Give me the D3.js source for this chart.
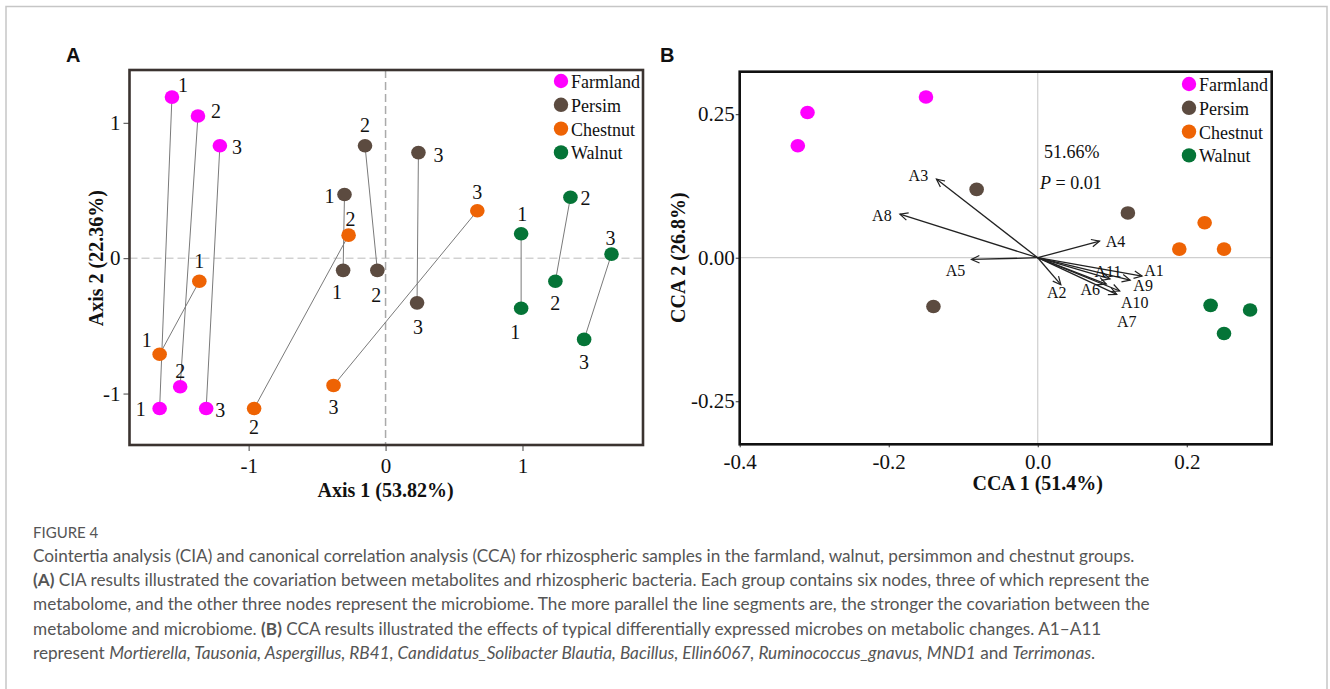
<!DOCTYPE html>
<html>
<head>
<meta charset="utf-8">
<script src="https://cdn.jsdelivr.net/npm/d3@7"></script>
<style>
body{margin:0;background:#fff;}
.visualization text{font-family:"Liberation Serif","Times New Roman",serif;fill:#111;}
.visualization .caption{font-family:Lato,"Open Sans",sans-serif;fill:#555;}
</style>
</head>
<body>
<div class="visualization"></div>
<script>
//data
const groups = ["Farmland", "Persim", "Chestnut", "Walnut"];
const replicates = ["1", "2", "3"];

//panel A: co-inertia, one row per group, first and second table scores
const ciaTicks = [-1, 0, 1];
const ciaX1 = [[-1.56, -1.37, -1.21], [-0.30, -0.15, 0.24], [-1.36, -0.27, 0.67], [0.99, 1.35, 1.65]];
const ciaY1 = [[1.19, 1.05, 0.83], [0.47, 0.83, 0.78], [-0.17, 0.17, 0.35], [0.18, 0.45, 0.03]];
const ciaX2 = [[-1.65, -1.50, -1.31], [-0.31, -0.06, 0.23], [-1.65, -0.96, -0.38], [0.99, 1.24, 1.45]];
const ciaY2 = [[-1.11, -0.95, -1.11], [-0.09, -0.09, -0.33], [-0.71, -1.11, -0.94], [-0.37, -0.17, -0.60]];

//panel B: CCA sample scores and taxa arrows
const ccaTicksX = [-0.4, -0.2, 0.0, 0.2];
const ccaTicksY = [0.25, 0.00, -0.25];
const siteGroup = ["Farmland", "Farmland", "Farmland", "Persim", "Persim", "Persim",
                   "Chestnut", "Chestnut", "Chestnut", "Walnut", "Walnut", "Walnut"];
const siteX = [-0.309, -0.322, -0.150, -0.082, 0.121, -0.140, 0.224, 0.190, 0.250, 0.232, 0.285, 0.250];
const siteY = [0.253, 0.195, 0.280, 0.119, 0.078, -0.085, 0.061, 0.015, 0.015, -0.083, -0.091, -0.132];
const taxa = ["A1", "A2", "A3", "A4", "A5", "A6", "A7", "A8", "A9", "A10", "A11"];
const taxaX = [0.140, 0.031, -0.136, 0.083, -0.089, 0.092, 0.106, -0.185, 0.124, 0.110, 0.097];
const taxaY = [-0.032, -0.047, 0.137, 0.029, -0.003, -0.046, -0.064, 0.076, -0.039, -0.058, -0.037];

//constants
const width = 1330;
const height = 689;
const colorScale = d3.scaleOrdinal(groups, ["#ff00ff", "#5c4b40", "#ee6304", "#057437"]);
//plain hyphen for negatives, like the original figure
const hyphen = f => d => f(d).replace("\u2212", "-");

//label nudges (pixels) for the replicate numbers in A: [dx, dy] per group/replicate
const nudge1 = [[[11, -12], [18, -5], [17, 1]], [[-15, 1], [0, -21], [20, 2]], [[0, -20], [2, -16], [0, -19]], [[1, -20], [15, 1], [-1, -16]]];
const nudge2 = [[[-19, 1], [0, -16], [14, 2]], [[-6, 22], [-1, 25], [1, 24]], [[-13, -14], [0, 19], [0, 22]], [[-6, 24], [0, 22], [0, 23]]];
//label nudges for taxa arrows
const taxaNudge = [[12, -6], [-4, 8], [-18, -4], [16, 0], [-16, 11], [-16, 5], [10, 27], [-18, 1], [13, 5], [15, 11], [-2, -7]];

const svg = d3.select(".visualization")
    .append("svg")
    .attr("width", width)
    .attr("height", height);

//outer frame of the figure
svg.append("path")
    .attr("d", `M6,${height + 2}V6.5H1327V${height + 2}`)
    .attr("fill", "none")
    .attr("stroke", "#c6c6c6")
    .attr("stroke-width", 1.5);

svg.append("text").attr("x", 66).attr("y", 62)
    .style("font-family", "Arial, 'Liberation Sans', sans-serif")
    .style("font-weight", "bold").style("font-size", "20px").text("A");
svg.append("text").attr("x", 660).attr("y", 62)
    .style("font-family", "Arial, 'Liberation Sans', sans-serif")
    .style("font-weight", "bold").style("font-size", "20px").text("B");

// ---------- panel A ----------
const ax = d3.scaleLinear().domain([-1.87, 1.88]).range([129.5, 643]);
const ay = d3.scaleLinear().domain([-1.38, 1.39]).range([445, 70]);
const gA = svg.append("g");

gA.append("line").attr("x1", ax(0)).attr("x2", ax(0)).attr("y1", ay.range()[1]).attr("y2", ay.range()[0])
    .attr("stroke", "#aaa").attr("stroke-width", 1.5).attr("stroke-dasharray", "8,4");
gA.append("line").attr("x1", ax.range()[0]).attr("x2", ax.range()[1]).attr("y1", ay(0)).attr("y2", ay(0))
    .attr("stroke", "#bbb").attr("stroke-width", 1).attr("stroke-dasharray", "8,4");

const axisA_x = gA.append("g").attr("transform", `translate(0,${ay.range()[0]})`)
    .call(d3.axisBottom(ax).tickValues(ciaTicks).tickSize(6).tickPadding(4).tickFormat(hyphen(d3.format("d"))));
const axisA_y = gA.append("g").attr("transform", `translate(${ax.range()[0]},0)`)
    .call(d3.axisLeft(ay).tickValues(ciaTicks).tickSize(6).tickPadding(3).tickFormat(hyphen(d3.format("d"))));
[axisA_x, axisA_y].forEach(a => {
  a.select(".domain").remove();
  a.selectAll("line").attr("stroke", "#444");
  a.selectAll("text").style("font-size", "21px").style("font-family", "'Liberation Serif', serif").attr("fill", "#111");
});
axisA_x.selectAll("text").attr("dy", "0.85em");

//pairs connected by thin lines
const pairs = [];
groups.forEach((g, gi) => replicates.forEach((r, ri) => {
  pairs.push({group: g, rep: r, x1: ciaX1[gi][ri], y1: ciaY1[gi][ri], x2: ciaX2[gi][ri], y2: ciaY2[gi][ri],
              n1: nudge1[gi][ri], n2: nudge2[gi][ri]});
}));

gA.selectAll(".pair").data(pairs).enter().append("line")
    .attr("class", "pair")
    .attr("x1", d => ax(d.x1)).attr("y1", d => ay(d.y1))
    .attr("x2", d => ax(d.x2)).attr("y2", d => ay(d.y2))
    .attr("stroke", "#7a7a7a").attr("stroke-width", 1);

const nodes = [];
pairs.forEach(d => {
  nodes.push({group: d.group, rep: d.rep, x: d.x1, y: d.y1, n: d.n1});
  nodes.push({group: d.group, rep: d.rep, x: d.x2, y: d.y2, n: d.n2});
});
gA.selectAll(".node").data(nodes).enter().append("ellipse")
    .attr("cx", d => ax(d.x)).attr("cy", d => ay(d.y))
    .attr("rx", 7.3).attr("ry", 6.8)
    .attr("fill", d => colorScale(d.group));
gA.selectAll(".rep").data(nodes).enter().append("text")
    .attr("x", d => ax(d.x) + d.n[0]).attr("y", d => ay(d.y) + d.n[1])
    .attr("text-anchor", "middle").attr("dominant-baseline", "central")
    .style("font-size", "20px")
    .text(d => d.rep);

gA.append("rect").attr("x", ax.range()[0]).attr("y", ay.range()[1])
    .attr("width", ax.range()[1] - ax.range()[0]).attr("height", ay.range()[0] - ay.range()[1])
    .attr("fill", "none").attr("stroke", "#3b3330").attr("stroke-width", 2.6);

gA.append("text").attr("x", ax(0)).attr("y", 497).attr("text-anchor", "middle")
    .style("font-weight", "bold").style("font-size", "20px").text("Axis 1 (53.82%)");
gA.append("text").attr("transform", `translate(103,${ay(0)}) rotate(-90)`).attr("text-anchor", "middle")
    .style("font-weight", "bold").style("font-size", "20px").text("Axis 2 (22.36%)");

function drawLegend(g, x, y) {
  const item = g.selectAll(".leg").data(groups).enter().append("g")
      .attr("transform", (d, i) => `translate(${x},${y + i * 23.8})`);
  item.append("circle").attr("r", 7.2).attr("fill", d => colorScale(d));
  item.append("text").attr("x", 10).attr("dominant-baseline", "central").attr("dy", 1)
      .style("font-size", "18px").text(d => d);
}
drawLegend(gA, 561, 81);

// ---------- panel B ----------
const bx = d3.scaleLinear().domain([-0.4, 0.314]).range([739.7, 1271.7]);
const by = d3.scaleLinear().domain([-0.325, 0.324]).range([444.3, 71.7]);
const gB = svg.append("g");

gB.append("line").attr("x1", bx(0)).attr("x2", bx(0)).attr("y1", by.range()[1]).attr("y2", by.range()[0])
    .attr("stroke", "#cfcfcf").attr("stroke-width", 1.2);
gB.append("line").attr("x1", bx.range()[0]).attr("x2", bx.range()[1]).attr("y1", by(0)).attr("y2", by(0))
    .attr("stroke", "#cfcfcf").attr("stroke-width", 1.2);

const axisB_x = gB.append("g").attr("transform", `translate(0,${by.range()[0]})`)
    .call(d3.axisBottom(bx).tickValues(ccaTicksX).tickSize(3).tickPadding(5).tickFormat(hyphen(d3.format(".1f"))));
const axisB_y = gB.append("g").attr("transform", `translate(${bx.range()[0]},0)`)
    .call(d3.axisLeft(by).tickValues(ccaTicksY).tickSize(4).tickPadding(1).tickFormat(hyphen(d3.format(".2f"))));
[axisB_x, axisB_y].forEach(a => {
  a.select(".domain").remove();
  a.selectAll("line").attr("stroke", "#333");
  a.selectAll("text").style("font-size", "21px").style("font-family", "'Liberation Serif', serif").attr("fill", "#111");
});
axisB_x.selectAll("text").attr("dy", "0.8em");

svg.append("defs").append("marker")
    .attr("id", "arrow").attr("viewBox", "-10 -6 12 12")
    .attr("refX", 0).attr("refY", 0)
    .attr("markerWidth", 12).attr("markerHeight", 12)
    .attr("markerUnits", "userSpaceOnUse").attr("orient", "auto")
    .append("path").attr("d", "M-8,-3.8L0,0L-8,3.8")
    .attr("fill", "none").attr("stroke", "#222").attr("stroke-width", 1.2);

const arrows = taxa.map((t, i) => ({name: t, x: taxaX[i], y: taxaY[i], n: taxaNudge[i]}));
gB.selectAll(".arrow").data(arrows).enter().append("line")
    .attr("x1", bx(0)).attr("y1", by(0))
    .attr("x2", d => bx(d.x)).attr("y2", d => by(d.y))
    .attr("stroke", "#222").attr("stroke-width", 1.3)
    .attr("marker-end", "url(#arrow)");
gB.selectAll(".alab").data(arrows).enter().append("text")
    .attr("x", d => bx(d.x) + d.n[0]).attr("y", d => by(d.y) + d.n[1])
    .attr("text-anchor", "middle").attr("dominant-baseline", "central")
    .style("font-size", "16px").attr("fill", "#222")
    .text(d => d.name);

gB.selectAll(".site").data(siteX).enter().append("ellipse")
    .attr("cx", d => bx(d)).attr("cy", (d, i) => by(siteY[i]))
    .attr("rx", 7.3).attr("ry", 6.8)
    .attr("fill", (d, i) => colorScale(siteGroup[i]));

gB.append("text").attr("x", 1044).attr("y", 158).style("font-size", "18px").text("51.66%");
const ptext = gB.append("text").attr("x", 1040).attr("y", 189).style("font-size", "18px");
ptext.append("tspan").style("font-style", "italic").text("P");
ptext.append("tspan").text(" = 0.01");

gB.append("rect").attr("x", bx.range()[0]).attr("y", by.range()[1])
    .attr("width", bx.range()[1] - bx.range()[0]).attr("height", by.range()[0] - by.range()[1])
    .attr("fill", "none").attr("stroke", "#111").attr("stroke-width", 2.6);

gB.append("text").attr("x", bx(0)).attr("y", 490).attr("text-anchor", "middle")
    .style("font-weight", "bold").style("font-size", "20px").text("CCA 1 (51.4%)");
gB.append("text").attr("transform", `translate(685,${by(0)}) rotate(-90)`).attr("text-anchor", "middle")
    .style("font-weight", "bold").style("font-size", "20px").text("CCA 2 (26.8%)");

drawLegend(gB, 1189, 84);

// ---------- caption ----------
const cap = svg.append("g").attr("class", "caption");
cap.append("text").attr("class", "caption").attr("x", 33).attr("y", 538)
    .style("font-size", "15px").text("FIGURE 4");

const capLines = [
  [["Cointertia analysis (CIA) and canonical correlation analysis (CCA) for rhizospheric samples in the farmland, walnut, persimmon and chestnut groups.", ""]],
  [["(A)", "b"], [" CIA results illustrated the covariation between metabolites and rhizospheric bacteria. Each group contains six nodes, three of which represent the", ""]],
  [["metabolome, and the other three nodes represent the microbiome. The more parallel the line segments are, the stronger the covariation between the", ""]],
  [["metabolome and microbiome. ", ""], ["(B)", "b"], [" CCA results illustrated the effects of typical differentially expressed microbes on metabolic changes. A1\u2013A11", ""]],
  [["represent ", ""], ["Mortierella, Tausonia, Aspergillus, RB41, Candidatus_Solibacter Blautia, Bacillus, Ellin6067, Ruminococcus_gnavus, MND1", "i"],
   [" and ", ""], ["Terrimonas", "i"], [".", ""]]
];
capLines.forEach((line, li) => {
  const t = cap.append("text").attr("class", "caption").attr("x", 33).attr("y", 562 + li * 24.2)
      .style("font-size", "17.2px");
  line.forEach(s => {
    t.append("tspan").attr("class", "caption")
        .style("font-weight", s[1] === "b" ? "bold" : "normal")
        .style("font-style", s[1] === "i" ? "italic" : "normal")
        .text(s[0]);
  });
});
</script>
</body>
</html>
